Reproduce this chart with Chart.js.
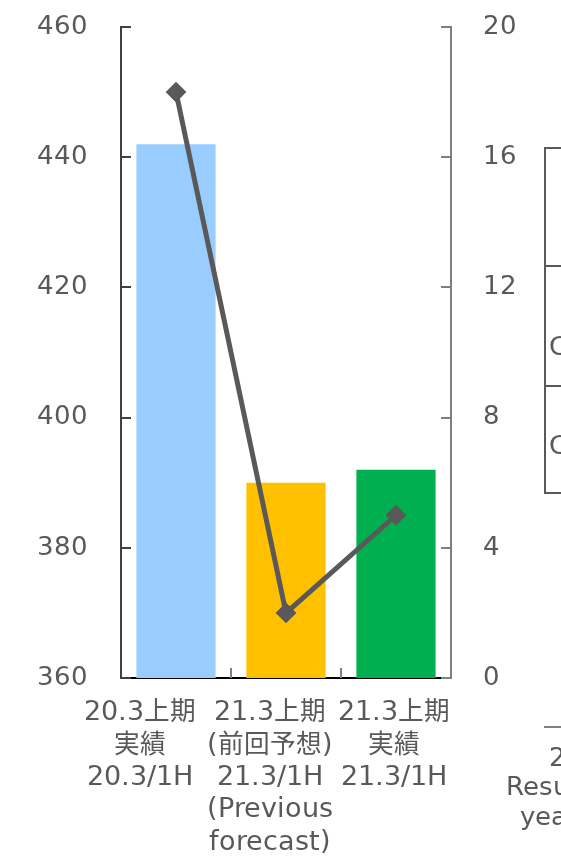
<!DOCTYPE html>
<html>
<head>
<meta charset="utf-8">
<style>
  @font-face {
    font-family: 'LabelFont';
    src: local('DejaVu Sans'), local('DejaVuSans');
    unicode-range: U+0000-024F;
  }
  @font-face {
    font-family: 'LabelFont';
    src: local('Noto Sans CJK JP'), local('Noto Sans CJK JP Regular'), local('NotoSansCJKjp-Regular');
    unicode-range: U+3000-30FF, U+4E00-9FFF, U+FF00-FFEF;
    size-adjust: 95%;
  }
  html, body { margin: 0; padding: 0; background: #fff; overflow: hidden; }
  #wrap { position: relative; width: 561px; height: 857px; overflow: hidden; }
  .frag { position: absolute; font: 26px 'LabelFont', 'DejaVu Sans', sans-serif; color: #595959; white-space: nowrap; line-height: 1; }
  .rule { position: absolute; background: #595959; }
</style>
<script src="https://cdn.jsdelivr.net/npm/chart.js@4"></script>
</head>
<body>
<div id="wrap">
  <canvas id="chart"></canvas>
  <!-- pieces of the neighbouring table cut off by the right edge -->
  <div class="rule" style="left:544px;top:147px;width:2px;height:347px"></div>
  <div class="rule" style="left:544px;top:147px;width:20px;height:2px"></div>
  <div class="rule" style="left:544px;top:265px;width:20px;height:2px"></div>
  <div class="rule" style="left:544px;top:385px;width:20px;height:2px"></div>
  <div class="rule" style="left:544px;top:492px;width:20px;height:2px"></div>
  <div class="frag" style="left:549px;top:333px">C</div>
  <div class="frag" style="left:549px;top:432px">C</div>
  <div class="rule" style="left:544px;top:726px;width:20px;height:2px;background:#7f7f7f"></div>
  <div class="frag" style="left:549px;top:744px">2</div>
  <div class="frag" style="left:506px;top:773px">Result</div>
  <div class="frag" style="left:520px;top:803px">year</div>
</div>
<script>
// categories (multi-line tick labels)
const categories = [
  ['20.3上期', '実績', '20.3/1H'],
  ['21.3上期', '(前回予想)', '21.3/1H', '(Previous', 'forecast)'],
  ['21.3上期', '実績', '21.3/1H']
];
// bar series, left axis
const barValues = [442, 390, 392];
const barColors = ['#99CCFF', '#FFC000', '#00B050'];
// line series, right axis
const lineValues = [18, 2, 5];

const textColor = '#595959';
const fontFamily = "'LabelFont', 'DejaVu Sans', 'Noto Sans CJK JP', sans-serif";
const yFont = { family: fontFamily, size: 26, lineHeight: 1.2 };
const xFont = { family: fontFamily, size: 27, lineHeight: 1.2 };
// in the original the category labels sit left of the bar centres
const labelShift = [-36, -16, -2];

// short tick marks pointing into the plot, like the original
const innerTicks = {
  id: 'innerTicks',
  afterDraw(chart) {
    const { ctx, chartArea: a, scales } = chart;
    ctx.save();
    ctx.lineWidth = 2;
    ctx.strokeStyle = '#404040';
    scales.y.ticks.forEach(t => {
      const py = Math.round(scales.y.getPixelForValue(t.value));
      ctx.beginPath(); ctx.moveTo(a.left, py); ctx.lineTo(a.left + 10, py); ctx.stroke();
    });
    ctx.strokeStyle = '#808080';
    scales.y1.ticks.forEach(t => {
      const py = Math.round(scales.y1.getPixelForValue(t.value));
      ctx.beginPath(); ctx.moveTo(a.right - 10, py); ctx.lineTo(a.right, py); ctx.stroke();
    });
    for (let i = 1; i < categories.length; i++) {
      const px = Math.round((scales.x.getPixelForTick(i - 1) + scales.x.getPixelForTick(i)) / 2);
      ctx.beginPath(); ctx.moveTo(px, a.bottom); ctx.lineTo(px, a.bottom - 10); ctx.stroke();
    }
    ctx.restore();
  }
};

// nudge each x label sideways before the scale draws it
const shiftLabels = {
  id: 'shiftLabels',
  beforeDraw(chart) {
    const items = chart.scales.x.getLabelItems(chart.chartArea);
    if (items._shifted) return;
    items.forEach((it, i) => { it.options.translation[0] += labelShift[i] || 0; });
    items._shifted = true;
  }
};

// fixed axis sizes; drop the tick padding chart.js adds above/below a y axis
const fitY = width => scale => {
  scale.width = width;
  scale.paddingTop = 0;
  scale.paddingBottom = 0;
};

function makeChart() {
  new Chart(document.getElementById('chart'), {
    type: 'bar',
    data: {
      labels: categories,
      datasets: [
        {
          type: 'line',
          data: lineValues,
          yAxisID: 'y1',
          order: 0,
          borderColor: '#595959',
          borderWidth: 5,
          pointStyle: 'rectRot',
          pointRadius: 9,
          pointBackgroundColor: '#595959',
          pointBorderColor: '#595959',
          pointBorderWidth: 2,
          tension: 0,
          fill: false
        },
        {
          type: 'bar',
          data: barValues,
          yAxisID: 'y',
          order: 1,
          backgroundColor: barColors,
          borderWidth: 0,
          barPercentage: 0.72,
          categoryPercentage: 1
        }
      ]
    },
    options: {
      responsive: true,
      maintainAspectRatio: false,
      animation: false,
      layout: { padding: { top: 27, left: 0, right: 0, bottom: 0 } },
      plugins: { legend: { display: false }, tooltip: { enabled: false } },
      scales: {
        x: {
          offset: true,
          grid: { display: true, drawOnChartArea: false, drawTicks: false },
          border: { color: '#000', width: 2 },
          ticks: { color: textColor, font: xFont, padding: 19, maxRotation: 0, autoSkip: false },
          afterFit(scale) { scale.height = 179; }
        },
        y: {
          position: 'left',
          min: 360,
          max: 460,
          grid: { display: true, drawOnChartArea: false, drawTicks: false },
          border: { color: '#404040', width: 2 },
          ticks: { stepSize: 20, color: textColor, font: yFont, padding: 33 },
          afterFit: fitY(121)
        },
        y1: {
          position: 'right',
          min: 0,
          max: 20,
          grid: { display: true, drawOnChartArea: false, drawTicks: false },
          border: { color: '#808080', width: 2 },
          ticks: { stepSize: 4, color: textColor, font: yFont, padding: 32 },
          afterFit: fitY(110)
        }
      }
    },
    plugins: [shiftLabels, innerTicks]
  });
}

Promise.all([
  document.fonts.load("27px LabelFont", "20.3上期実績前回予想"),
  document.fonts.load("26px 'DejaVu Sans'", "0")
]).catch(() => {}).then(makeChart);
</script>
</body>
</html>
